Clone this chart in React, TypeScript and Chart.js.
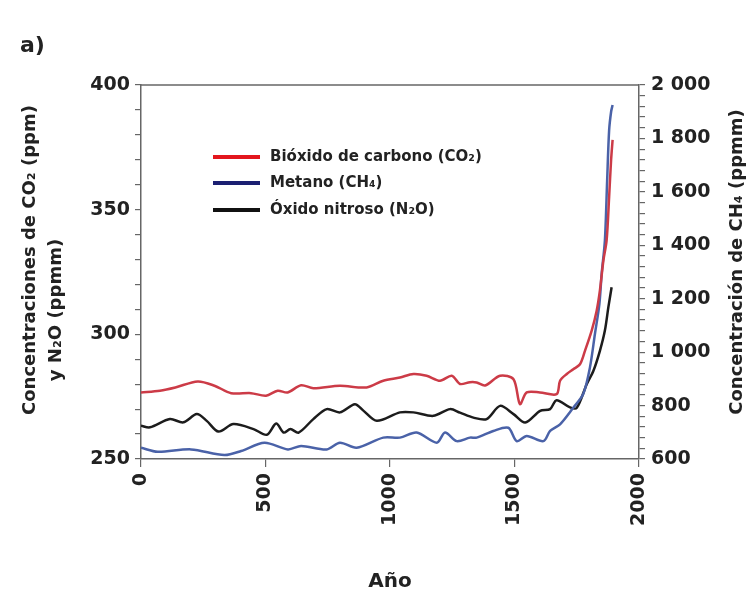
import React, { useEffect, useRef } from 'react';
import { Chart, registerables } from 'chart.js';

Chart.register(...registerables);

// ---- Data ----
const co2Years = [0, 76, 138, 228, 295, 362, 442, 502, 549, 589, 643, 692, 799, 906, 973, 1040, 1094, 1147, 1201, 1248, 1281, 1321, 1348, 1382, 1442, 1496, 1522, 1549, 1602, 1669, 1683, 1710, 1736, 1763, 1783, 1810, 1830, 1843, 1857, 1870, 1880, 1888, 1894];
const co2Values = [276.7, 277.4, 278.7, 281.1, 279.4, 276.4, 276.4, 275.4, 277.4, 276.7, 279.6, 278.4, 279.4, 278.7, 281.4, 282.7, 284.1, 283.4, 281.4, 283.4, 280.1, 280.8, 280.7, 279.5, 283.4, 282, 272, 276.7, 276.7, 276, 281.4, 284.1, 286, 288, 293.4, 301.5, 309.5, 317.6, 329.6, 337.7, 355, 370, 378];

const ch4Years = [0, 67, 201, 335, 402, 496, 590, 643, 746, 799, 866, 973, 1040, 1107, 1188, 1221, 1268, 1321, 1348, 1415, 1475, 1509, 1549, 1616, 1643, 1683, 1736, 1776, 1803, 1823, 1841, 1850, 1863, 1872, 1880, 1888, 1894];
const ch4Values = [642, 627, 636, 615, 630, 661, 636, 649, 636, 661, 642, 680, 680, 699, 661, 699, 667, 680, 680, 705, 717, 667, 686, 667, 705, 730, 792, 843, 943, 1068, 1181, 1293, 1418, 1640, 1830, 1900, 1925];

const n2oYears = [0, 36, 116, 170, 224, 264, 311, 371, 452, 505, 543, 573, 600, 633, 692, 746, 799, 859, 893, 947, 1040, 1094, 1174, 1241, 1281, 1335, 1388, 1442, 1496, 1543, 1603, 1643, 1669, 1723, 1750, 1790, 1817, 1843, 1863, 1877, 1890];
const n2oValues = [263.3, 262.7, 266, 264.7, 268, 265.3, 261, 264, 262, 259.7, 264.2, 260.6, 262, 260.6, 266, 270, 268.7, 272, 269.4, 265.3, 268.7, 268.7, 267.3, 270, 268.6, 266.6, 266, 271.3, 268, 264.6, 269.3, 270, 273.6, 270.7, 270.5, 280, 285.4, 293.4, 301.5, 310.9, 318.9];

const xTickValues = [0, 500, 1000, 1500, 2000];

const seriesLabels = ['Bióxido de carbono (CO₂)', 'Metano (CH₄)', 'Óxido nitroso (N₂O)'];
const lineColors = ['#cc3b47', '#4a62a8', '#1c1c1c'];
const legendColors = ['#e3161d', '#1b1f72', '#111111'];

const leftTitle1 = 'Concentraciones de CO₂ (ppm)';
const leftTitle2 = 'y N₂O (ppmm)';
const rightTitle = 'Concentración de CH₄ (ppmm)';
const xTitle = 'Año';
const panelLabel = 'a)';

const FONT = '"DejaVu Sans", sans-serif';
const TEXT = '#222222';
const AXIS = '#666666';

function toPoints(xs: number[], ys: number[]) {
  return xs.map((x, i) => ({ x, y: ys[i] }));
}

function fmtThousands(v: number) {
  if (v >= 1000) {
    const th = Math.floor(v / 1000);
    const rest = String(v % 1000).padStart(3, '0');
    return `${th} ${rest}`;
  }
  return String(v);
}

const extrasPlugin = {
  id: 'extras',
  afterDraw(chart: any) {
    const { ctx, chartArea } = chart;
    ctx.save();
    // top frame line
    ctx.strokeStyle = AXIS;
    ctx.lineWidth = 1.5;
    ctx.beginPath();
    ctx.moveTo(chartArea.left, chartArea.top);
    ctx.lineTo(chartArea.right, chartArea.top);
    ctx.stroke();

    ctx.fillStyle = TEXT;
    ctx.font = `bold 22px ${FONT}`;
    ctx.textAlign = 'left';
    ctx.textBaseline = 'middle';
    ctx.fillText(panelLabel, 20, 46);

    const rot = (text: string, x: number, y: number) => {
      ctx.save();
      ctx.translate(x, y);
      ctx.rotate(-Math.PI / 2);
      ctx.textAlign = 'center';
      ctx.textBaseline = 'middle';
      ctx.fillText(text, 0, 0);
      ctx.restore();
    };
    ctx.font = `bold 18px ${FONT}`;
    rot(leftTitle1, 30, 260);
    rot(leftTitle2, 56, 310);
    rot(rightTitle, 737, 262);

    ctx.font = `bold 20px ${FONT}`;
    ctx.textAlign = 'center';
    ctx.textBaseline = 'middle';
    ctx.fillText(xTitle, 390, 582);

    // legend
    const rows = [157, 183, 210];
    chart.data.datasets.forEach((ds: any, i: number) => {
      const y = rows[i];
      ctx.strokeStyle = legendColors[i];
      ctx.lineWidth = 4;
      ctx.beginPath();
      ctx.moveTo(213, y);
      ctx.lineTo(260, y);
      ctx.stroke();
      ctx.fillStyle = TEXT;
      ctx.font = `bold 15px ${FONT}`;
      ctx.textAlign = 'left';
      ctx.textBaseline = 'middle';
      ctx.fillText(ds.label, 270, y);
    });
    ctx.restore();
  },
};

export default function App() {
  const ref = useRef<HTMLCanvasElement>(null);

  useEffect(() => {
    if (!ref.current) return;
    const tickFont = { family: FONT, size: 19, weight: 'bold' as const };
    const grid = { drawOnChartArea: false, drawTicks: true, tickLength: 6, color: AXIS, lineWidth: 1.2 };
    const border = { display: true, color: AXIS, width: 1.5 };
    const lineDs = (i: number, data: any[], axis: string) => ({
      label: seriesLabels[i],
      data,
      borderColor: lineColors[i],
      borderWidth: 2.5,
      pointRadius: 0,
      tension: 0.3,
      yAxisID: axis,
    });
    const chart = new Chart(ref.current, {
      type: 'line',
      data: {
        datasets: [
          lineDs(0, toPoints(co2Years, co2Values), 'y'),
          lineDs(1, toPoints(ch4Years, ch4Values), 'y1'),
          lineDs(2, toPoints(n2oYears, n2oValues), 'y'),
        ],
      },
      options: {
        responsive: false,
        animation: false,
        layout: { padding: { top: 85, left: 0, right: 0, bottom: 0 } },
        plugins: { legend: { display: false }, tooltip: { enabled: false } },
        scales: {
          x: {
            type: 'linear',
            min: xTickValues[0],
            max: xTickValues[xTickValues.length - 1],
            afterBuildTicks: (s: any) => {
              s.ticks = xTickValues.map((v) => ({ value: v }));
            },
            ticks: {
              minRotation: 90,
              maxRotation: 90,
              font: tickFont,
              color: TEXT,
              padding: 6,
              callback: (v: any) => String(v),
            },
            grid: { ...grid, tickLength: 8 },
            border,
            afterFit: (s: any) => {
              s.height = 139;
            },
          },
          y: {
            position: 'left',
            min: 250,
            max: 400,
            ticks: {
              stepSize: 10,
              autoSkip: false,
              font: tickFont,
              color: TEXT,
              padding: 5,
              callback: (v: any) => (Number(v) % 50 === 0 ? String(v) : ''),
            },
            grid,
            border,
            afterFit: (s: any) => {
              s.width = 141;
            },
          },
          y1: {
            position: 'right',
            min: 600,
            max: 2000,
            ticks: {
              stepSize: 40,
              autoSkip: false,
              font: tickFont,
              color: TEXT,
              padding: 6,
              callback: (v: any) => (Number(v) % 200 === 0 ? fmtThousands(Number(v)) : ''),
            },
            grid,
            border,
            afterFit: (s: any) => {
              s.width = 114;
            },
          },
        },
      },
      plugins: [extrasPlugin],
    });
    return () => chart.destroy();
  }, []);

  return (
    <div style={{ position: 'absolute', left: 0, top: 0, width: 753, height: 598, background: '#fff' }}>
      <canvas ref={ref} width={753} height={598} style={{ width: 753, height: 598, display: 'block' }} />
    </div>
  );
}
